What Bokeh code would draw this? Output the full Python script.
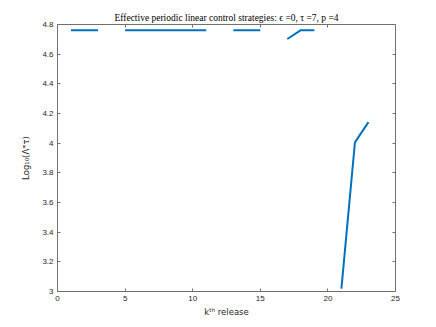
from bokeh.plotting import figure
from bokeh.models import Range1d, FixedTicker, LinearAxis
from bokeh.embed import file_html
from bokeh.resources import INLINE

# data
k_release = [1, 2, 3, None, 5, 6, 7, 8, 9, 10, 11, None, 13, 14, 15, None, 17, 18, 19, None, 21, 22, 23]
log_lambda_tau = [4.762, 4.762, 4.762, None, 4.762, 4.762, 4.762, 4.762, 4.762, 4.762, 4.762, None,
                  4.762, 4.762, 4.762, None, 4.702, 4.762, 4.762, None, 3.02, 4.005, 4.142]
x_ticks = [0, 5, 10, 15, 20, 25]
y_ticks = [3.0, 3.2, 3.4, 3.6, 3.8, 4.0, 4.2, 4.4, 4.6, 4.8]
y_tick_labels = ["3", "3.2", "3.4", "3.6", "3.8", "4", "4.2", "4.4", "4.6", "4.8"]
title_text = "Effective periodic linear control strategies: \u03f5 =0, \u03c4 =7, p =4"
x_label = "k\u1d57\u02b0 release"
y_label = "Log\u2081\u2080(\u039b*\u03c4)"

xs = [float("nan") if v is None else v for v in k_release]
ys = [float("nan") if v is None else v for v in log_lambda_tau]

AX = "#707070"
TXT = "#262626"

p = figure(width=428, height=319, output_backend="svg", toolbar_location=None,
           x_range=Range1d(0, 25), y_range=Range1d(3, 4.8),
           min_border_left=57, min_border_right=33, min_border_top=24, min_border_bottom=28,
           x_axis_location=None, y_axis_location=None)
p.grid.visible = False
p.outline_line_color = None
p.background_fill_color = "white"
p.border_fill_color = "white"

p.title.text = title_text
p.title.align = "center"
p.title.text_font = "Liberation Serif"
p.title.text_font_size = "9.5px"
p.title.text_font_style = "normal"
p.title.text_color = "black"
p.title.standoff = 4
p.title.offset = 0

p.line(xs, ys, line_color="#0072BD", line_width=2)

def style(ax, labels=True):
    ax.axis_line_color = AX
    ax.axis_line_width = 1
    ax.major_tick_line_color = AX
    ax.major_tick_in = 3
    ax.major_tick_out = 0
    ax.minor_tick_line_color = None
    ax.major_label_text_font = "Liberation Sans"
    ax.major_label_text_font_size = "8px"
    ax.major_label_text_color = TXT
    ax.major_label_standoff = 4
    ax.axis_label_text_font = "DejaVu Sans"
    ax.axis_label_text_font_size = "8.5px"
    ax.axis_label_text_font_style = "normal"
    ax.axis_label_text_color = TXT
    if not labels:
        ax.major_label_text_font_size = "0px"
        ax.major_label_text_color = None
        ax.major_label_standoff = 0

xb = LinearAxis(ticker=FixedTicker(ticks=x_ticks), axis_label=x_label, axis_label_standoff=3)
style(xb)
xb.major_label_overrides = {t: str(t) for t in x_ticks}
p.add_layout(xb, "below")
xt = LinearAxis(ticker=FixedTicker(ticks=x_ticks))
style(xt, labels=False)
p.add_layout(xt, "above")
yl = LinearAxis(ticker=FixedTicker(ticks=y_ticks), axis_label=y_label, axis_label_standoff=8)
style(yl)
yl.major_label_overrides = {t: s for t, s in zip(y_ticks, y_tick_labels)}
p.add_layout(yl, "left")
yr = LinearAxis(ticker=FixedTicker(ticks=y_ticks))
style(yr, labels=False)
p.add_layout(yr, "right")

open("out.html", "w").write(file_html(p, INLINE))
